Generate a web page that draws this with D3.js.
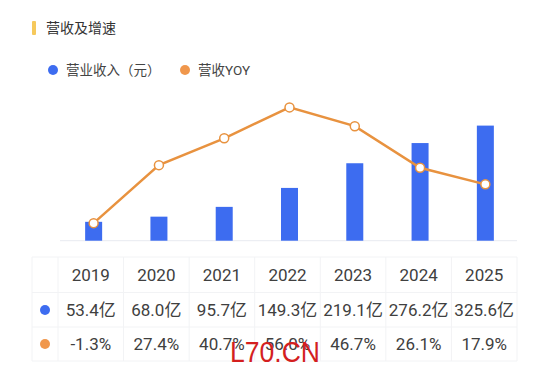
<!DOCTYPE html>
<html>
  <head>
    <meta charset="UTF-8" />
    <title>营收及增速</title>
    <script src="https://d3js.org/d3.v7.min.js"></script>
    <style>
      body { margin: 0; background: #fff; }
      text { font-family: Roboto, "Noto Sans CJK SC", sans-serif; }
    </style>
  </head>
  <body>
    <svg width="550" height="373"></svg>
    <script>
      var years = ["2019", "2020", "2021", "2022", "2023", "2024", "2025"];
      var revenue = [53.4, 68.0, 95.7, 149.3, 219.1, 276.2, 325.6];
      var yoy = [-1.3, 27.4, 40.7, 56.0, 46.7, 26.1, 17.9];
      var revenueLabels = ["53.4亿", "68.0亿", "95.7亿", "149.3亿", "219.1亿", "276.2亿", "325.6亿"];
      var yoyLabels = ["-1.3%", "27.4%", "40.7%", "56.0%", "46.7%", "26.1%", "17.9%"];

      var blue = "#3d6cf0",
        orange = "#e8923f",
        textColor = "#404040";

      var svg = d3.select("svg");
      svg.append("rect").attr("width", 550).attr("height", 373).attr("fill", "#fff");

      // title
      svg.append("rect")
        .attr("x", 32).attr("y", 21).attr("width", 4).attr("height", 14)
        .attr("rx", 1).attr("fill", "#f6c95c");
      svg.append("text")
        .attr("x", 46).attr("y", 33)
        .attr("font-size", 14).attr("fill", "#333")
        .text("营收及增速");

      // legend
      var legend = svg.append("g").attr("font-size", 13.5);
      legend.append("circle").attr("cx", 53).attr("cy", 70).attr("r", 5).attr("fill", blue);
      legend.append("text").attr("x", 66).attr("y", 75).attr("fill", "#444").text("营业收入（元）");
      legend.append("circle").attr("cx", 185).attr("cy", 70).attr("r", 5).attr("fill", "#f0974c");
      legend.append("text").attr("x", 198).attr("y", 75).attr("fill", "#444").text("营收YOY");

      // chart
      var x = d3.scaleBand().domain(years).range([61, 518]).paddingInner(0);
      var yL = d3.scaleLinear().domain([0, 400]).range([240.7, 99.3]);
      var yR = d3.scaleLinear().domain([-10, 60]).range([240.7, 99.3]);
      var barW = 17;

      svg.append("line")
        .attr("x1", 60).attr("x2", 517)
        .attr("y1", 240.7).attr("y2", 240.7)
        .attr("stroke", "#e8ebf0").attr("stroke-width", 1);

      svg.append("g")
        .selectAll("rect")
        .data(revenue)
        .enter()
        .append("rect")
        .attr("x", function (d, i) { return x(years[i]) + x.bandwidth() / 2 - barW / 2; })
        .attr("y", function (d) { return yL(d); })
        .attr("width", barW)
        .attr("height", function (d) { return yL(0) - yL(d); })
        .attr("fill", blue);

      var line = d3.line()
        .x(function (d, i) { return x(years[i]) + x.bandwidth() / 2; })
        .y(function (d) { return yR(d); });

      svg.append("path")
        .datum(yoy)
        .attr("d", line)
        .attr("fill", "none")
        .attr("stroke", orange)
        .attr("stroke-width", 2.5);

      svg.append("g")
        .selectAll("circle")
        .data(yoy)
        .enter()
        .append("circle")
        .attr("cx", function (d, i) { return x(years[i]) + x.bandwidth() / 2; })
        .attr("cy", function (d) { return yR(d); })
        .attr("r", 4.5)
        .attr("fill", "#fff")
        .attr("stroke", orange)
        .attr("stroke-width", 1.5);

      // table
      var tx = d3.scaleBand().domain(years).range([58, 517]);
      var rows = [257, 292.5, 327, 361];
      var grid = svg.append("g").attr("stroke", "#f2f3f5").attr("stroke-width", 1);
      rows.forEach(function (r) {
        grid.append("line").attr("x1", 32).attr("x2", 517).attr("y1", r).attr("y2", r);
      });
      [32].concat(years.map(function (d) { return tx(d); }), [517]).forEach(function (c) {
        grid.append("line").attr("x1", c).attr("x2", c).attr("y1", rows[0]).attr("y2", rows[3]);
      });

      var tableRows = [years, revenueLabels, yoyLabels];
      tableRows.forEach(function (row, ri) {
        var cy = (rows[ri] + rows[ri + 1]) / 2;
        svg.append("g")
          .selectAll("text")
          .data(row)
          .enter()
          .append("text")
          .attr("x", function (d, i) { return tx(years[i]) + tx.bandwidth() / 2; })
          .attr("y", cy)
          .attr("dy", "0.36em")
          .attr("text-anchor", "middle")
          .attr("font-size", 17)
          .attr("fill", textColor)
          .text(function (d) { return d; });
      });
      svg.append("circle").attr("cx", 45).attr("cy", 310).attr("r", 5).attr("fill", blue);
      svg.append("circle").attr("cx", 45).attr("cy", 344).attr("r", 5).attr("fill", "#f0974c");

      // watermark
      svg.append("text")
        .attr("x", 230).attr("y", 362)
        .attr("font-size", 29)
        .attr("textLength", 90)
        .attr("lengthAdjust", "spacingAndGlyphs")
        .attr("fill", "#d41f1f")
        .style("font-family", "'Liberation Sans', sans-serif")
        .text("L70.CN");
    </script>
  </body>
</html>
